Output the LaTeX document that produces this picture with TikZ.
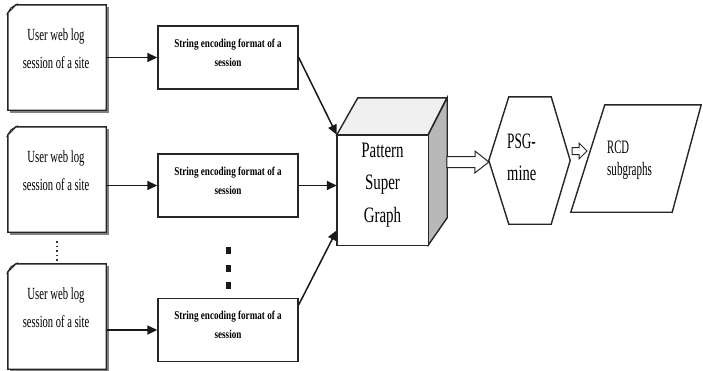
\documentclass[tikz,border=0pt]{standalone}
\usepackage{fontspec}
\setmainfont{Liberation Serif}
\usetikzlibrary{arrows.meta}
\newcommand{\cx}[2]{\scalebox{#1}[1]{#2}}
\tikzset{
  outl/.style={draw=black!85, line width=1.4pt, line join=miter},
  shadowl/.style={draw=black!50, line width=1.4pt},
  docbox/.style={minimum width=98pt, minimum height=105pt, inner sep=0pt},
  doctext/.style={anchor=base, inner sep=0pt, font=\fontsize{17}{20}\selectfont},
  strbox/.style={outl, fill=white, minimum width=140pt, minimum height=63pt, inner sep=0pt},
  strtext/.style={anchor=base, inner sep=0pt, font=\fontsize{12}{14}\selectfont\bfseries},
  arr/.style={draw=black!90, line width=1.5pt, -{Triangle[length=10pt,width=9pt]}},
  hollow/.style={draw=black!85, line width=1pt, fill=white, line join=miter},
  bigtext/.style={anchor=base, inner sep=0pt, font=\fontsize{22}{24}\selectfont},
  lefttext/.style={anchor=base west, inner sep=0pt},
}
\begin{document}
\begin{tikzpicture}[x=1pt,y=-1pt]
\useasboundingbox[fill=white] (0,0) rectangle (703,370);

% document boxes
\foreach \n/\yc in {1/57.5, 2/179.5, 3/316.5}{
  \node[docbox] (d\n) at (57,\yc) {};
  \draw[shadowl] ([xshift=1.8pt,yshift=-1.8pt]d\n.north east) -- ([xshift=1.8pt,yshift=-1.8pt]d\n.south east) -- ([xshift=1.8pt,yshift=-1.8pt]d\n.south west);
  \draw[outl, fill=white] ([xshift=8pt]d\n.north west) -- (d\n.north east) -- (d\n.south east) -- (d\n.south west) -- ([yshift=-8pt]d\n.north west) -- cycle;
  \draw[outl, fill=black!12, line width=0.8pt] ([xshift=8pt]d\n.north west) -- ([yshift=-8pt]d\n.north west) -- ([xshift=3pt,yshift=-3pt]d\n.north west) -- cycle;
  \node[doctext] (dta\n) at ([xshift=-1pt,yshift=-36pt]d\n.north) {\cx{0.63}{User web log}};
  \node[doctext] (dtb\n) at ([xshift=-1pt,yshift=-64pt]d\n.north) {\cx{0.62}{session of a site}};
}

% string boxes
\foreach \n/\yc in {1/57.5, 2/185.5, 3/330}{
  \node[strbox] (s\n) at (228,\yc) {};
  \node[strtext] (sta\n) at ([yshift=-22pt]s\n.north) {\cx{0.76}{String encoding format of a}};
  \node[strtext] (stb\n) at ([yshift=-41pt]s\n.north) {\cx{0.76}{session}};
}

% dots
\draw[line width=1.3pt, black!80, dash pattern=on 1.6pt off 3pt] (57,241) -- (57,263);
\foreach \yy in {247,265,282}{
  \fill[black!90] (226,\yy) rectangle (231,\yy+7);
}

% arrows doc -> string
\foreach \n in {1,2,3}{
  \draw[arr] (d\n.east |- s\n.west) -- (s\n.west);
}

% cube
\node[minimum width=91pt, minimum height=110pt, inner sep=0pt] (cube) at (382.5,190) {};
\draw[outl, fill=black!6] (cube.north west) -- ++(21,-37) -- ++(89,0) -- (cube.north east) -- cycle;
\draw[outl, fill=black!28] (cube.north east) -- ++(19,-37) -- ++(0,120) -- (cube.south east) -- cycle;
\draw[outl, fill=white] (cube.north west) rectangle (cube.south east);
\node[bigtext] (ct1) at ([yshift=-23pt]cube.north) {\cx{0.68}{Pattern}};
\node[bigtext] (ct2) at ([yshift=-55pt]cube.north) {\cx{0.68}{Super}};
\node[bigtext] (ct3) at ([yshift=-88pt]cube.north) {\cx{0.68}{Graph}};

% arrows string -> cube
\draw[arr] (s1.east) -- (cube.north west);
\draw[arr] (s2.east) -- (s2.east -| cube.west);
\draw[arr] ([yshift=-7pt]s3.north east) -- ([yshift=15pt]cube.south west);

% hexagon
\node[minimum width=81pt, minimum height=127pt, inner sep=0pt] (hex) at (529.5,160.5) {};
\draw[outl, fill=white] (hex.west) -- ([xshift=20pt]hex.north west) -- ([xshift=-19pt]hex.north east) -- (hex.east) -- ([xshift=-19pt]hex.south east) -- ([xshift=20pt]hex.south west) -- cycle;
\node[lefttext, font=\fontsize{22}{24}\selectfont] (hx1) at (507,148) {\cx{0.6}{PSG-}};
\node[lefttext, font=\fontsize{22}{24}\selectfont] (hx2) at (507,180) {\cx{0.66}{mine}};

% parallelogram
\node[minimum width=130pt, minimum height=107pt, inner sep=0pt] (rcd) at (636,158.5) {};
\draw[outl, fill=white] ([xshift=34pt]rcd.north west) -- (rcd.north east) -- ([xshift=-29pt]rcd.south east) -- (rcd.south west) -- cycle;
\node[lefttext, font=\fontsize{19}{21}\selectfont] (rc1) at (607,153) {\cx{0.56}{RCD}};
\node[lefttext, font=\fontsize{19}{21}\selectfont] (rc2) at (607,175) {\cx{0.58}{subgraphs}};

% hollow arrows
\coordinate (h1s) at (447,162);
\draw[hollow] (h1s) ++(0,-5.5) -- ++(28,0) -- ++(0,-5.5) -- (hex.west |- h1s) -- ++(-14,11) -- ++(0,-5.5) -- ++(-28,0) -- cycle;
\coordinate (h2s) at (572,151);
\draw[hollow] (h2s) ++(0,-3.5) -- ++(7,0) -- ++(0,-4.5) -- ++(8,8) -- ++(-8,8) -- ++(0,-4.5) -- ++(-7,0) -- cycle;
\end{tikzpicture}
\end{document}
